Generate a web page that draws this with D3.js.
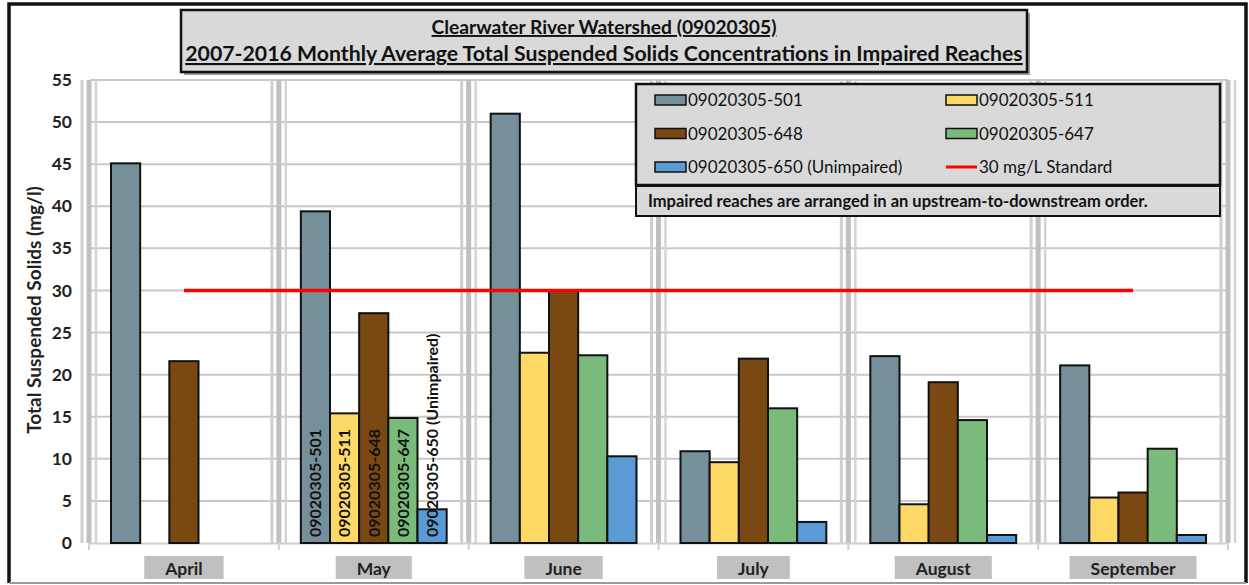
<!DOCTYPE html>
<html>
<head>
<meta charset="utf-8">
<script src="https://cdn.jsdelivr.net/npm/d3@7"></script>
<style>
  body { margin: 0; background: #fff; }
  svg { display: block; font-family: Lato, "Open Sans", sans-serif; }
</style>
</head>
<body>
<div id="chart"></div>
<script>
// Data
var months = ["April", "May", "June", "July", "August", "September"];
var reaches = ["09020305-501", "09020305-511", "09020305-648", "09020305-647", "09020305-650"];
var reachNames = ["09020305-501", "09020305-511", "09020305-648", "09020305-647", "09020305-650 (Unimpaired)"];
var v501 = [45.1, 39.4, 51.0, 10.9, 22.2, 21.1];
var v511 = [null, 15.4, 22.6, 9.6, 4.6, 5.4];
var v648 = [21.6, 27.3, 30.0, 21.9, 19.1, 6.0];
var v647 = [null, 14.85, 22.3, 16.0, 14.6, 11.2];
var v650 = [null, 4.0, 10.3, 2.5, 0.95, 0.95];
var yTicks = [0, 5, 10, 15, 20, 25, 30, 35, 40, 45, 50, 55];
var standard = 30;
var titleLines = ["Clearwater River Watershed (09020305)",
                  "2007-2016 Monthly Average Total Suspended Solids Concentrations in Impaired Reaches"];
var noteText = "Impaired reaches are arranged in an upstream-to-downstream order.";
var standardLabel = "30 mg/L Standard";

var colors = ["#758f9b", "#ffd966", "#7a4812", "#7aba7a", "#5b9bd5"];
var seriesValues = [v501, v511, v648, v647, v650];

var svg = d3.select("#chart").append("svg").attr("width", 1249).attr("height", 585);

// scales
var x = d3.scaleBand().domain(months).range([89, 1228]).padding(0);
var bw = x.bandwidth();
var x1 = d3.scaleBand().domain(reaches).range([22, bw - 22]).padding(0);
var y = d3.scaleLinear().domain([0, 55]).range([543, 80]);

// horizontal grid
svg.append("g")
    .selectAll("line").data(yTicks.filter(d => d > 0)).enter().append("line")
    .attr("x1", 90).attr("x2", 1228)
    .attr("y1", d => y(d)).attr("y2", d => y(d))
    .attr("stroke", "#c8c8c8").attr("stroke-width", 2);

// vertical grid clusters at category boundaries
var bounds = months.map(m => x(m)).concat([x.range()[1]]);
var vg = svg.append("g");
bounds.forEach(function (b) {
    [[-7, 3, "#cfcfcf"], [0, 5, "#c0c0c0"], [7, 2.5, "#d4d4d4"]].forEach(function (s) {
        vg.append("line")
            .attr("x1", b + s[0]).attr("x2", b + s[0])
            .attr("y1", y(55)).attr("y2", y(0))
            .attr("stroke", s[2]).attr("stroke-width", s[1]);
    });
});

// x axis line + ticks
var xa = svg.append("g").attr("transform", "translate(0," + y(0) + ")")
    .call(d3.axisBottom(x).tickValues([]).tickSizeOuter(0));
xa.select(".domain").attr("stroke", "#d0d0d0").attr("stroke-width", 2);
xa.selectAll(".bt").data(bounds).enter().append("line")
    .attr("x1", d => d).attr("x2", d => d).attr("y1", 0).attr("y2", 7)
    .attr("stroke", "#d0d0d0").attr("stroke-width", 2);

// y axis labels
var ya = svg.append("g").attr("transform", "translate(72,0)")
    .call(d3.axisLeft(y).tickValues(yTicks).tickSize(0).tickPadding(0));
ya.select(".domain").remove();
ya.selectAll("text").attr("font-family", "Lato, sans-serif").attr("font-size", 17.5)
    .attr("font-weight", "bold").attr("fill", "#222");

svg.append("text")
    .attr("transform", "translate(41,310) rotate(-90)")
    .attr("text-anchor", "middle")
    .attr("font-size", 19).attr("font-weight", "bold").attr("fill", "#222")
    .text("Total Suspended Solids (mg/l)");

// bars
var barData = [];
months.forEach(function (m, i) {
    reaches.forEach(function (r, j) {
        var v = seriesValues[j][i];
        if (v != null) barData.push({ month: m, reach: r, idx: j, value: v });
    });
});

svg.append("g").selectAll("rect").data(barData).enter().append("rect")
    .attr("x", d => x(d.month) + x1(d.reach))
    .attr("y", d => y(d.value))
    .attr("width", x1.bandwidth())
    .attr("height", d => y(0) - y(d.value))
    .attr("fill", d => colors[d.idx])
    .attr("stroke", "#111").attr("stroke-width", 2);

// rotated labels in May
svg.append("g").selectAll("text").data(barData.filter(d => d.month === "May")).enter().append("text")
    .attr("transform", d => "translate(" + (x(d.month) + x1(d.reach) + x1.bandwidth() / 2) + "," + (y(0) - 6) + ") rotate(-90)")
    .attr("dy", "0.36em")
    .attr("font-size", 16).attr("font-weight", "bold").attr("fill", "#111")
    .text(d => reachNames[d.idx]);

// 30 mg/L standard line
svg.append("line")
    .attr("x1", x(months[0]) + bw / 2).attr("x2", x(months[months.length - 1]) + bw / 2)
    .attr("y1", y(standard)).attr("y2", y(standard))
    .attr("stroke", "#ff0000").attr("stroke-width", 3.5);

// month labels with grey boxes
var ml = svg.append("g").selectAll("g").data(months).enter().append("g")
    .attr("transform", d => "translate(" + (x(d) + bw / 2) + ",0)");
ml.append("rect").attr("class", "lb").attr("fill", "#c0c0c0");
ml.append("text").attr("text-anchor", "middle").attr("y", 575)
    .attr("font-size", 17.5).attr("font-weight", "bold").attr("fill", "#222")
    .text(d => d);
ml.each(function () {
    var g = d3.select(this);
    var w = g.select("text").node().getComputedTextLength();
    g.select("rect").attr("x", -(w + 42) / 2).attr("width", w + 42).attr("y", 556).attr("height", 23);
});

// title box
svg.append("rect").attr("x", 184).attr("y", 13).attr("width", 846).attr("height", 62).attr("fill", "#9a9a9a");
svg.append("rect").attr("x", 181).attr("y", 10).attr("width", 846).attr("height", 62)
    .attr("fill", "#d9d9d9").attr("stroke", "#111").attr("stroke-width", 2.5);
var titleTargets = [345, 838];
titleLines.forEach(function (t, i) {
    var tx = svg.append("text").attr("x", 604).attr("y", 34 + i * 27)
        .attr("text-anchor", "middle").attr("font-weight", "bold").attr("font-size", 19)
        .attr("fill", "#111").style("text-decoration", "underline").text(t);
    var w = tx.node().getComputedTextLength();
    tx.attr("font-size", 19 * titleTargets[i] / w);
});

// legend box
var lg = svg.append("g");
lg.append("rect").attr("x", 636).attr("y", 84).attr("width", 584).attr("height", 101)
    .attr("fill", "#d9d9d9").attr("stroke", "#111").attr("stroke-width", 2.5);
var legendItems = reachNames.map((n, i) => ({ name: n, color: colors[i], line: false }))
    .concat([{ name: standardLabel, color: "#ff0000", line: true }]);
var li = lg.selectAll("g").data(legendItems).enter().append("g")
    .attr("transform", (d, i) => "translate(" + (i % 2 === 0 ? 655 : 946) + "," + (100 + Math.floor(i / 2) * 33.5) + ")");
li.filter(d => !d.line).append("rect")
    .attr("x", 0).attr("y", -5).attr("width", 31).attr("height", 10)
    .attr("fill", d => d.color).attr("stroke", "#111").attr("stroke-width", 1.5);
li.filter(d => d.line).append("line")
    .attr("x1", 0).attr("x2", 31).attr("y1", 0).attr("y2", 0)
    .attr("stroke", d => d.color).attr("stroke-width", 3);
li.append("text").attr("x", 33).attr("dy", "0.36em")
    .attr("font-size", 17).attr("fill", "#111").text(d => d.name);

// note box
svg.append("rect").attr("x", 636).attr("y", 186).attr("width", 584).attr("height", 30)
    .attr("fill", "#d9d9d9").attr("stroke", "#111").attr("stroke-width", 2);
svg.append("text").attr("x", 648).attr("y", 207)
    .attr("font-size", 16.5).attr("font-weight", "bold").attr("fill", "#111").text(noteText);

// outer frame
svg.append("path").attr("d", "M9,583 L9,4 L1246,4 L1246,583")
    .attr("fill", "none").attr("stroke", "#111").attr("stroke-width", 3.5);
svg.append("line").attr("x1", 9).attr("x2", 1246).attr("y1", 583).attr("y2", 583)
    .attr("stroke", "#9a9a9a").attr("stroke-width", 2);
</script>
</body>
</html>
